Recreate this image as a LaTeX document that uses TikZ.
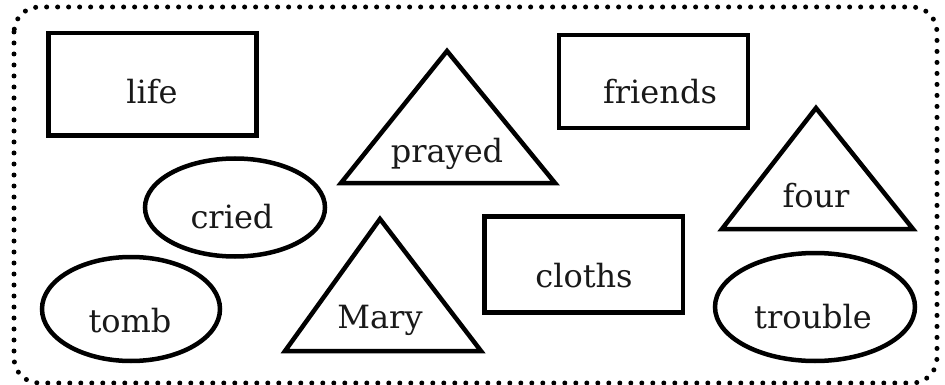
\documentclass[tikz,border=0pt]{standalone}
\usepackage{fontspec}
\setmainfont{DejaVu Serif}
\usetikzlibrary{positioning}

\begin{document}
\begin{tikzpicture}[
    x=1pt, y=-1pt,
    outline/.style={draw, line width=4.5pt, line join=miter},
    word/.style={anchor=base, inner sep=0pt, font=\fontsize{32}{38}\selectfont, text=black!90},
    frame/.style={draw, line width=5pt, line cap=round, dash pattern=on 0pt off 11pt, rounded corners=25pt}
]
    \useasboundingbox (0,0) rectangle (945,385);
    \draw[frame] (14,7) rectangle (937,383);

    % boxes
    \draw[outline] (48.5,33) rectangle (256.5,135.5);
    \draw[outline] (559,35) rectangle (748,128);
    \draw[outline] (484.5,216.5) rectangle (683,312.5);

    % triangles
    \draw[outline] (341,183) -- (555,183) -- (447,51) -- cycle;
    \draw[outline] (722,229) -- (913,229) -- (816,108) -- cycle;
    \draw[outline] (285,351) -- (481,351) -- (380,219) -- cycle;

    % ellipses
    \draw[outline] (235,207.5) ellipse [x radius=90, y radius=49];
    \draw[outline] (131,309) ellipse [x radius=89, y radius=52];
    \draw[outline] (815,307) ellipse [x radius=100, y radius=54];

    \node[word] (life) at (152,104) {life};
    \node[word] (friends) at (660,104) {friends};
    \node[word] (cloths) at (584,287) {cloths};
    \node[word] (prayed) at (447,163) {prayed};
    \node[word] (four) at (816,207) {four};
    \node[word] (mary) at (380,328) {Mary};
    \node[word] (cried) at (232,228) {cried};
    \node[word] (tomb) at (130,332) {tomb};
    \node[word] (trouble) at (813,328) {trouble};
\end{tikzpicture}
\end{document}
